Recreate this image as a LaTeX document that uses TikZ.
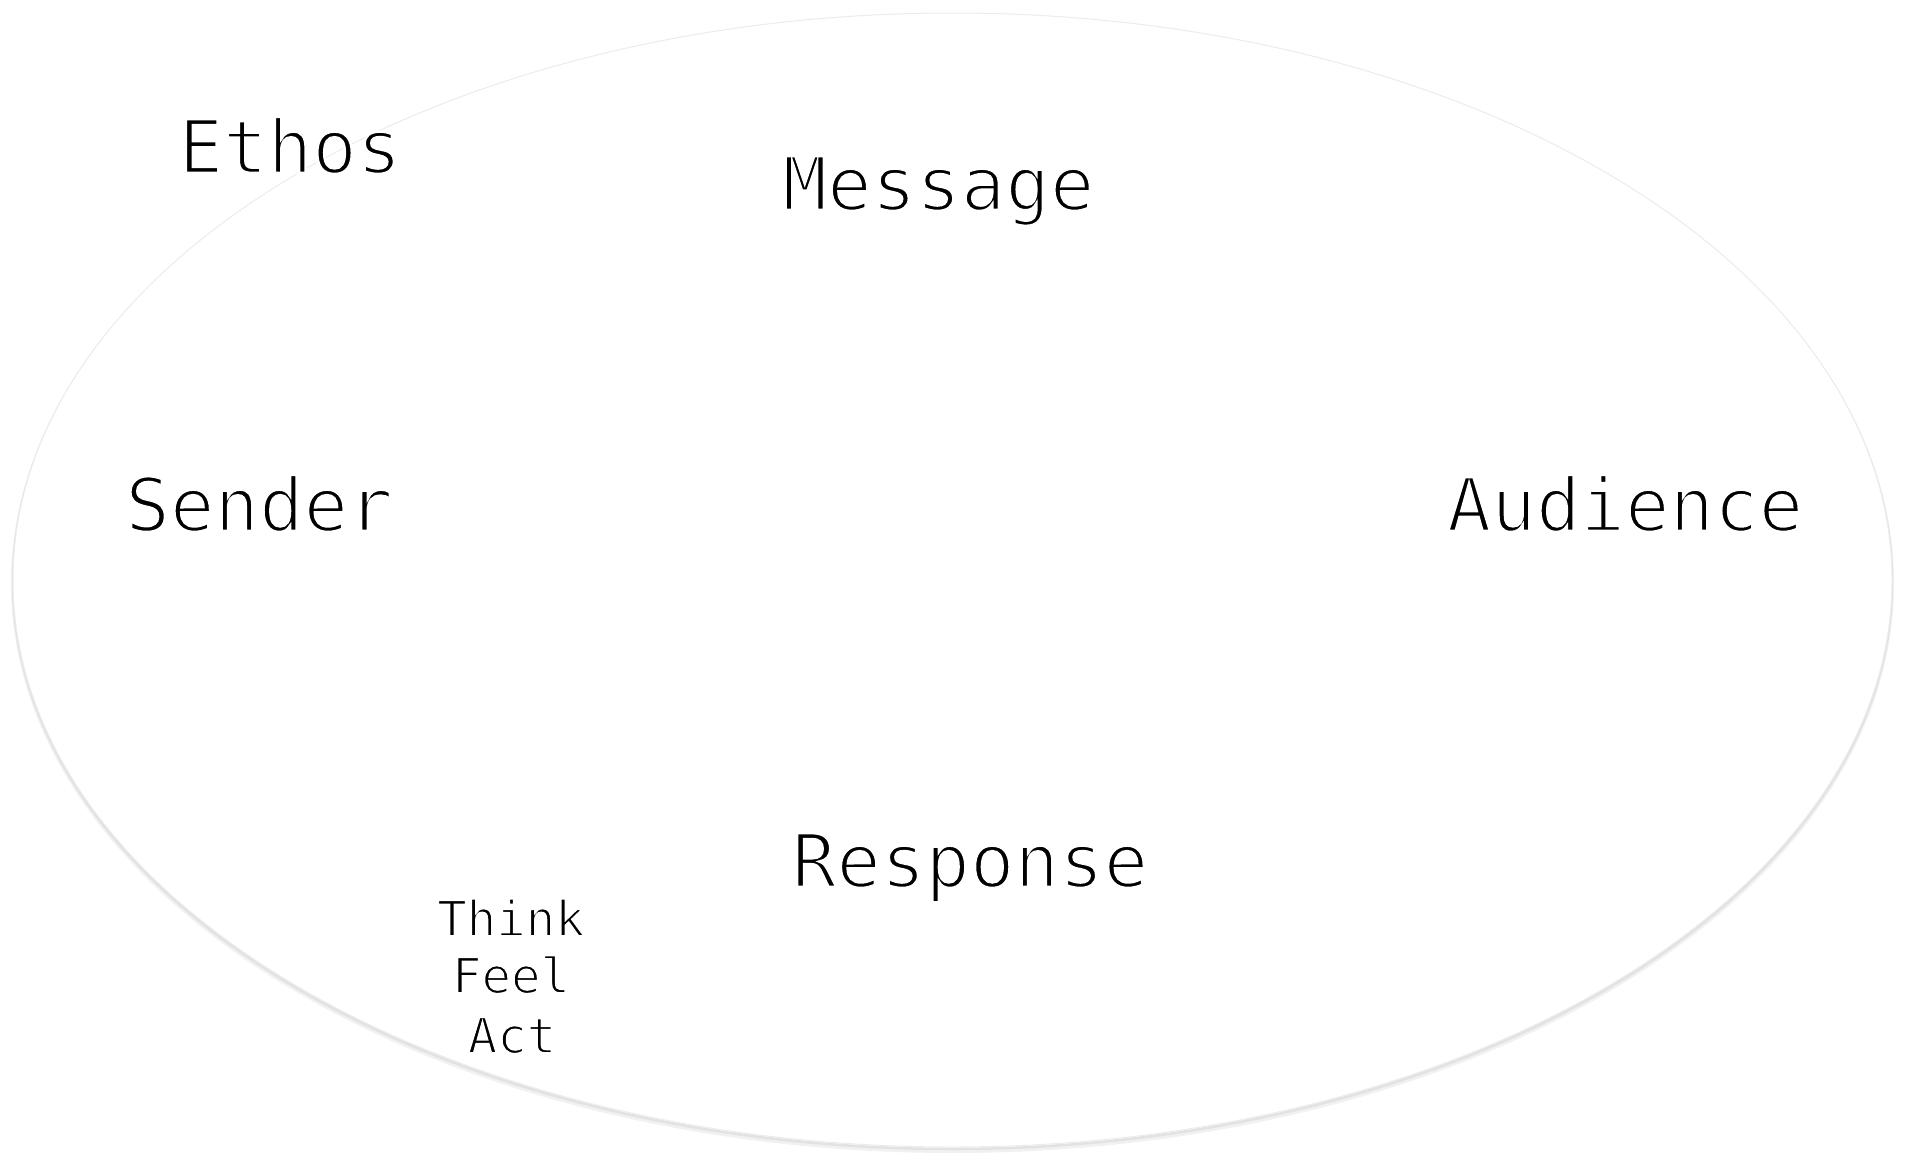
\documentclass[tikz,border=0pt]{standalone}
\usepackage{fontspec}
\newfontfamily\monof{DejaVu Sans Mono}
\definecolor{rimgray}{RGB}{236,236,236}
\definecolor{shadegray}{RGB}{214,214,214}
\newcommand{\thinbig}{\special{pdf:literal direct 2 Tr 1 1 1 RG 2.6 w}}
\newcommand{\thinsmall}{\special{pdf:literal direct 2 Tr 1 1 1 RG 1.6 w}}
\tikzset{
  bigword/.style={font=\monof\fontsize{74}{80}\selectfont, inner sep=0pt, anchor=base, text=black},
  smallword/.style={font=\monof\fontsize{49}{58}\selectfont, inner sep=0pt, anchor=base, text=black},
}
\begin{document}
\begin{tikzpicture}[x=1pt,y=-1pt]
\useasboundingbox (0,0) rectangle (1914,1152);
\fill[white] (0,0) rectangle (1914,1152);
% soft shadow of the ellipse
\draw[shadegray!35, line width=5pt] (952.5,583.5) ellipse [x radius=939, y radius=567];
\draw[shadegray!70, line width=2.5pt] (952.5,582) ellipse [x radius=939.5, y radius=567];
% ellipse
\draw[rimgray, fill=white, line width=1pt] (952.5,580) ellipse [x radius=939.5, y radius=567];
% labels
\node[bigword] (ethos) at (290,173) {\thinbig Ethos};
\node[bigword] (message) at (938.5,210) {\thinbig Message};
\node[bigword] (sender) at (259,531) {\thinbig Sender};
\node[bigword] (audience) at (1625,531) {\thinbig Audience};
\node[bigword] (response) at (970,887) {\thinbig Response};
\node[smallword] (think) at (511,936) {\thinsmall Think};
\node[smallword] (feel) at (511,993) {\thinsmall Feel};
\node[smallword] (act) at (512,1053) {\thinsmall Act};
\end{tikzpicture}
\end{document}
